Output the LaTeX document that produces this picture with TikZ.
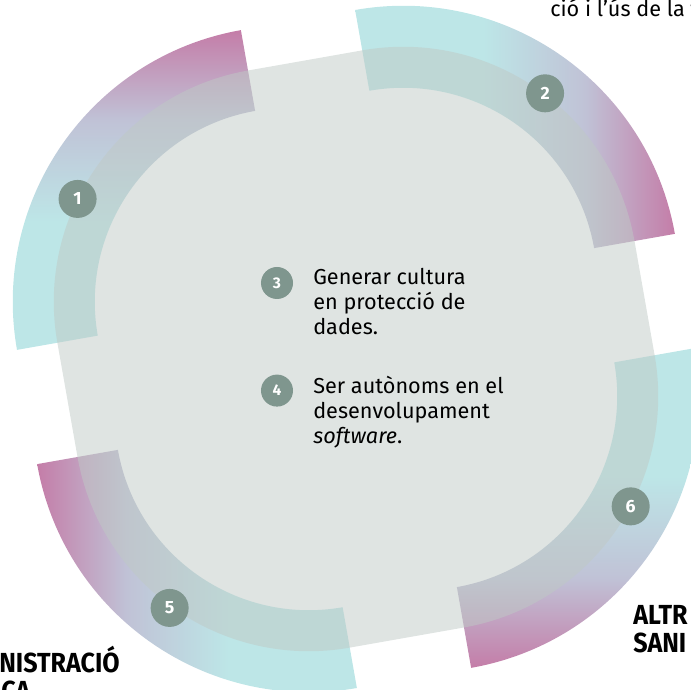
\documentclass[tikz,border=0pt]{standalone}
\usepackage{fontspec}
\setmainfont{Fira Sans}
\newfontfamily\capsfont[FakeStretch=0.91]{Fira Sans}
\usetikzlibrary{positioning}
\definecolor{bandcyan}{HTML}{BDE6E7}
\definecolor{bandlilac}{HTML}{C0C2D6}
\definecolor{bandpink}{HTML}{C47DA8}
\definecolor{panelgrey}{HTML}{BFC9C5}
\definecolor{dotgreen}{HTML}{7F968E}
\pgfdeclareverticalshading{bandfade}{100bp}{color(0bp)=(bandcyan); color(45bp)=(bandcyan); color(61bp)=(bandlilac); color(75bp)=(bandpink); color(100bp)=(bandpink)}

\begin{document}
\begin{tikzpicture}[x=0.025cm,y=0.025cm,
    band/.style={shading=bandfade},
    panel/.style={fill=panelgrey,opacity=0.5},
    numdot/.style={circle,fill=dotgreen,text=white,inner sep=0pt,minimum size=0.95cm,font=\bfseries\fontsize{12.6}{12.6}\selectfont},
    smalldot/.style={numdot,minimum size=0.8cm,font=\bfseries\fontsize{11}{11}\selectfont},
    item/.style={align=left,inner sep=0pt,font=\fontsize{15.4}{17.8}\selectfont},
    edgelabel/.style={inner sep=0pt,font=\capsfont\bfseries\fontsize{19.6}{19.6}\selectfont}]

        \useasboundingbox (0,0) rectangle (691,690);
        \clip (0,0) rectangle (691,690);

        \begin{scope}[shift={(356,341)},rotate=10]
        % Arcs round the four corners
        \foreach \a/\b/\cx/\cy/\s in {90/180/-58/58/0, 0/90/58/58/270, 270/360/58/-58/180, 180/270/-58/-58/90}
            \shade[band,shading angle=\s,shift={(\cx,\cy)}] (\a:276) arc[start angle=\a,end angle=\b,radius=276] -- (\b:194) arc[start angle=\b,end angle=\a,radius=194] -- cycle;

        % Rounded square
        \fill[panel] (58,293) -- (-58,293) arc[start angle=90,end angle=180,radius=235] -- (-293,-58) arc[start angle=180,end angle=270,radius=235] -- (58,-293) arc[start angle=270,end angle=360,radius=235] -- (293,58) arc[start angle=0,end angle=90,radius=235] -- cycle;

        % Numbers on the arcs
        \node[numdot] (m1) at ([shift={(-58,58)}]144:235) {1};
        \node[numdot] (m2) at ([shift={(58,58)}]43:236) {2};
        \node[numdot] (m5) at ([shift={(-58,-58)}]224:237) {5};
        \node[numdot] (m6) at ([shift={(58,-58)}]322:235) {6};
        \end{scope}

        % Central items
        \node[smalldot] (m3) at (277,407) {3};
        \node[smalldot, below=1.875cm of m3] (m4) {4};
        \node[item, anchor=north west] (t3) at ([shift={(36,15)}]m3.center) {Generar cultura\\en protecció de\\dades.};
        \node[item, anchor=north west] (t4) at ([shift={(36,15)}]m4.center) {Ser autònoms en el\\desenvolupament\\\textit{software}.};

        % Labels cut by the frame
        \node[item, anchor=base west] (top) at (550,673) {ció i l’ús de la t};
        \node[edgelabel, anchor=base west] (adm) at (-1,17) {NISTRACIÓ};
        \node[edgelabel, anchor=base west] (pub) at (1,-11) {CA};
        \node[edgelabel, anchor=base west] (altr) at (633,65) {ALTR};
        \node[edgelabel, anchor=base west] (sani) at (633,37) {SANI};

\end{tikzpicture}
\end{document}
